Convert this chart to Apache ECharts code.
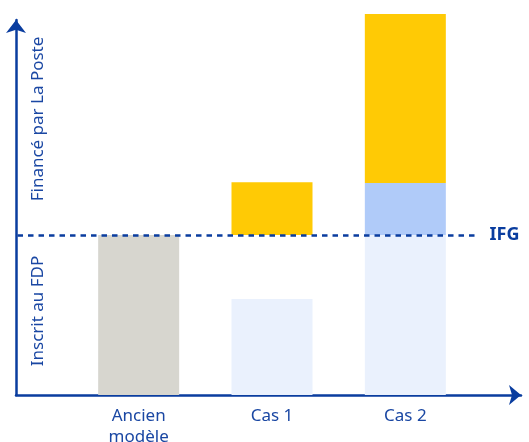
<!DOCTYPE html>
<html>
<head>
<meta charset="utf-8">
<script src="https://cdn.jsdelivr.net/npm/echarts@6/dist/echarts.min.js"></script>
<style>
  html, body { margin: 0; padding: 0; background: #ffffff; }
  #chart { width: 529px; height: 442px; }
</style>
</head>
<body>
<div id="chart"></div>
<script>
// ---- Data ----
const categories = ['Ancien\nmodèle', 'Cas 1', 'Cas 2'];
const ifgLevel = 100;                       // IFG threshold
const ancienValues = [100, '-', '-'];        // Ancien modèle (grey)
const fdpValues = ['-', 60, 100];            // Inscrit au FDP (light blue)
const gapValues = ['-', 40, '-'];            // empty space up to IFG (Cas 1)
const extraFdpValues = ['-', '-', 32.5];     // FDP above IFG (medium blue)
const postValues = ['-', 33, 105.6];         // Financé par La Poste (yellow)
const yMax = 234.4;
const yLabelTop = 'Financé par La Poste';
const yLabelBottom = 'Inscrit au FDP';
const ifgLabel = 'IFG';

const blue = '#0a3d9f';
const textBlue = '#1a47a3';

const chart = echarts.init(document.getElementById('chart'), null, { renderer: 'canvas' });

function barSeries(name, data, color) {
  return {
    name: name, type: 'bar', stack: 'total',
    xAxisIndex: 1, yAxisIndex: 1,
    data: data, barWidth: 81, clip: false,
    itemStyle: { color: color },
    emphasis: { disabled: true }, silent: true
  };
}

chart.setOption({
  animation: false,
  grid: [
    { left: 16, right: 8, top: 20, bottom: 47, containLabel: false, outerBoundsMode: 'none' },
    { left: 72, right: 57, top: 20, bottom: 47, containLabel: false, outerBoundsMode: 'none' }
  ],
  xAxis: [
    {
      gridIndex: 0, type: 'value', min: 0, max: 1,
      axisLine: { show: true, symbol: ['none', 'arrow'], symbolSize: [15, 12],
        lineStyle: { color: blue, width: 2.5 } },
      axisTick: { show: false }, axisLabel: { show: false }, splitLine: { show: false }
    },
    {
      gridIndex: 1, type: 'category', data: categories,
      axisLine: { show: false }, axisTick: { show: false }, splitLine: { show: false },
      axisLabel: { color: textBlue, fontSize: 17, fontFamily: 'Noto Sans', margin: 11, lineHeight: 21 }
    }
  ],
  yAxis: [
    {
      gridIndex: 0, type: 'value', min: 0, max: yMax,
      axisLine: { show: true, symbol: ['none', 'arrow'], symbolSize: [15, 13],
        lineStyle: { color: blue, width: 2.5 } },
      axisTick: { show: false }, axisLabel: { show: false }, splitLine: { show: false }
    },
    {
      gridIndex: 1, type: 'value', min: 0, max: yMax, show: false,
      splitLine: { show: false }
    }
  ],
  series: [
    barSeries('Ancien modèle', ancienValues, '#d7d6cf'),
    barSeries('Inscrit au FDP', fdpValues, '#eaf1fd'),
    barSeries('gap', gapValues, 'rgba(0,0,0,0)'),
    barSeries('FDP au-dessus', extraFdpValues, '#b0cbf9'),
    barSeries('Financé par La Poste', postValues, '#ffca05'),
    {
      type: 'line', xAxisIndex: 0, yAxisIndex: 0, data: [], silent: true,
      markLine: {
        silent: true, symbol: ['none', 'none'], animation: false,
        lineStyle: { color: blue, width: 2.7, type: [5.5, 5], opacity: 1 },
        label: {
          show: true, position: 'end', formatter: ifgLabel, distance: 13,
          color: blue, fontSize: 18, fontWeight: 'bold', fontFamily: 'Noto Sans'
        },
        emphasis: { disabled: true },
        data: [[{ coord: [0.003, ifgLevel] }, { coord: [0.912, ifgLevel] }]]
      }
    }
  ],
  graphic: [
    {
      type: 'text', x: 38, y: 311, rotation: Math.PI / 2, silent: true,
      style: { text: yLabelBottom, fill: textBlue, font: '17px "Noto Sans"',
        textAlign: 'center', textVerticalAlign: 'middle' }
    },
    {
      type: 'text', x: 38, y: 119, rotation: Math.PI / 2, silent: true,
      style: { text: yLabelTop, fill: textBlue, font: '17px "Noto Sans"',
        textAlign: 'center', textVerticalAlign: 'middle' }
    }
  ]
});
</script>
</body>
</html>
